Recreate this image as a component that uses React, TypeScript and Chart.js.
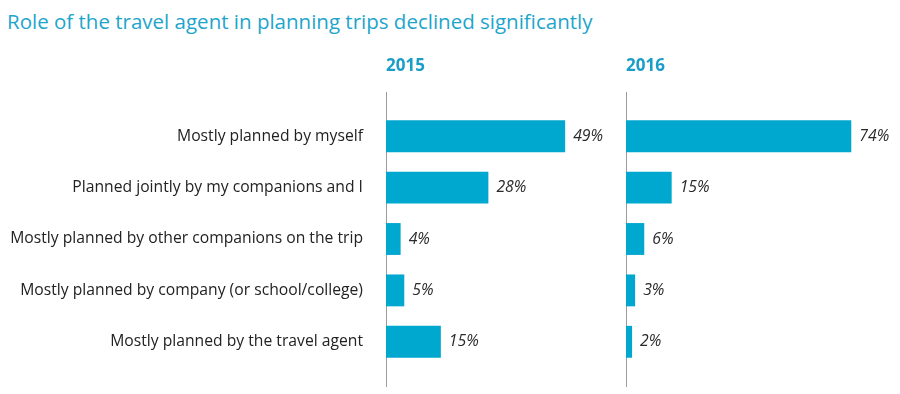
import React, { useEffect, useRef } from 'react';
import { Chart, registerables } from 'chart.js';

Chart.register(...registerables);

const TITLE = 'Role of the travel agent in planning trips declined significantly';
const categories = [
  'Mostly planned by myself',
  'Planned jointly by my companions and I',
  'Mostly planned by other companions on the trip',
  'Mostly planned by company (or school/college)',
  'Mostly planned by the travel agent',
];
const years = ['2015', '2016'];
const values2015 = [49, 28, 4, 5, 15];
const values2016 = [74, 15, 6, 3, 2];
const axisMax2015 = 64;
const axisMax2016 = 90;

const FONT = '"Open Sans", "Noto Sans", sans-serif';
const BAR_COLOR = '#00A7CF';
const TITLE_COLOR = '#1DA5CB';
const YEAR_COLOR = '#1A9DC9';
const AXIS_COLOR = '#9C9C9C';
const TEXT_COLOR = '#222222';

const valueLabels = {
  id: 'valueLabels',
  afterDatasetsDraw(chart: any) {
    const ctx = chart.ctx;
    chart.data.datasets.forEach((ds: any, di: number) => {
      const meta = chart.getDatasetMeta(di);
      meta.data.forEach((el: any, i: number) => {
        const v = ds.data[i].x;
        ctx.save();
        ctx.font = `italic 15.8px ${FONT}`;
        ctx.fillStyle = '#2a2a2a';
        ctx.textAlign = 'left';
        ctx.textBaseline = 'middle';
        ctx.fillText(`${v}%`, el.x + 8, el.y);
        ctx.restore();
      });
    });
  },
};

type PanelProps = {
  values: number[];
  max: number;
  year: string;
  showCategories: boolean;
  axisOffset: number;
  left: number;
  width: number;
};

function Panel({ values, max, year, showCategories, axisOffset, left, width }: PanelProps) {
  const ref = useRef<HTMLCanvasElement | null>(null);
  useEffect(() => {
    if (!ref.current) return;
    const chart = new Chart(ref.current, {
      type: 'bar',
      data: {
        datasets: [
          {
            data: values.map((v, i) => ({ x: v, y: i })),
            backgroundColor: BAR_COLOR,
            borderWidth: 0,
            categoryPercentage: 1,
            barPercentage: 0.62,
          } as any,
        ],
      },
      plugins: [valueLabels],
      options: {
        indexAxis: 'y',
        animation: false,
        responsive: true,
        maintainAspectRatio: false,
        layout: { padding: { top: 0, bottom: 8, left: 0, right: 0 } },
        plugins: {
          legend: { display: false },
          tooltip: { enabled: false },
          title: { display: false },
        },
        scales: {
          x: {
            type: 'linear',
            position: 'top',
            min: 0,
            max,
            grid: { display: false, drawTicks: false },
            border: { display: false },
            ticks: { display: false },
            title: {
              display: true,
              text: year,
              align: 'start',
              color: YEAR_COLOR,
              font: { family: FONT, size: 17, weight: 'bold' },
              padding: { top: 56, bottom: 0 },
            },
            afterFit: (s: any) => {
              s.height = 92;
            },
          },
          y: {
            type: 'linear',
            reverse: true,
            offset: false,
            min: -0.86,
            max: categories.length - 1 + 0.86,
            grid: { display: false, drawTicks: false, offset: false },
            border: { display: true, color: AXIS_COLOR, width: 1 },
            ticks: {
              display: showCategories,
              stepSize: 1,
              includeBounds: false,
              autoSkip: false,
              padding: 23,
              color: TEXT_COLOR,
              font: { family: FONT, size: 15.7 },
              callback: (v: any) =>
                Number.isInteger(v) && categories[v] !== undefined ? categories[v] : '',
            },
            afterFit: (s: any) => {
              s.width = axisOffset;
              s.paddingTop = 0;
              s.paddingBottom = 0;
            },
          },
        },
      } as any,
    });
    return () => chart.destroy();
  }, [values, max, year, showCategories, axisOffset]);

  return (
    <div style={{ position: 'absolute', left, top: 0, width, height: 394 }}>
      <canvas ref={ref} />
    </div>
  );
}

export default function App() {
  return (
    <div
      style={{
        position: 'absolute',
        left: 0,
        top: 0,
        width: 900,
        height: 394,
        background: '#ffffff',
        overflow: 'hidden',
      }}
    >
      <div
        style={{
          position: 'absolute',
          left: 7,
          top: 7,
          fontFamily: FONT,
          fontSize: 20.5,
          lineHeight: '28px',
          color: TITLE_COLOR,
          whiteSpace: 'nowrap',
        }}
      >
        {TITLE}
      </div>
      <Panel
        values={values2015}
        max={axisMax2015}
        year={years[0]}
        showCategories={true}
        axisOffset={386}
        left={0}
        width={620}
      />
      <Panel
        values={values2016}
        max={axisMax2016}
        year={years[1]}
        showCategories={false}
        axisOffset={6}
        left={620}
        width={280}
      />
    </div>
  );
}
